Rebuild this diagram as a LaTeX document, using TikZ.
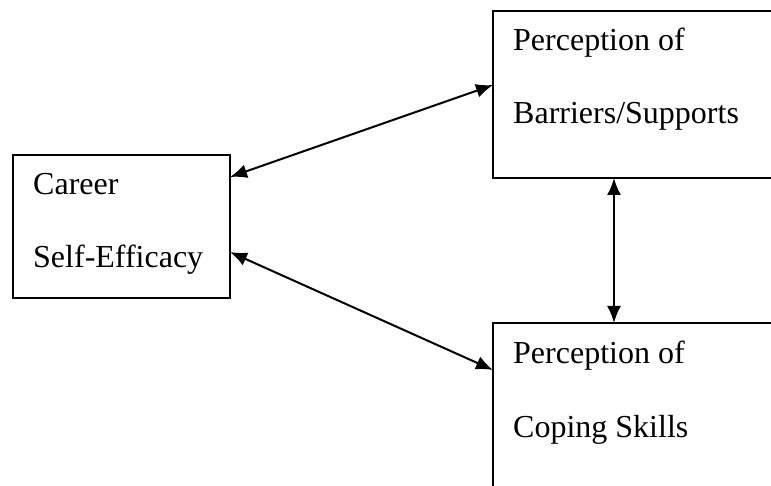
\documentclass[tikz,border=0pt]{standalone}
\usepackage{fontspec}
\setmainfont{Liberation Serif}
\usepackage{tikz}
\usetikzlibrary{arrows.meta}

\begin{document}
\begin{tikzpicture}[x=1pt,y=-1pt,
  box/.style={draw, line width=2.2pt, rectangle, anchor=north west, inner sep=0pt, outer sep=0pt},
  txt/.style={anchor=base west, inner sep=0pt, font=\fontsize{32}{38}\selectfont},
  link/.style={line width=2pt, {Latex[length=17pt,width=14pt]}-{Latex[length=17pt,width=14pt]}}]
\useasboundingbox (0,0) rectangle (771,486);
\clip (0,0) rectangle (771,486);
\node[box, minimum width=217pt, minimum height=143pt] (career) at (13,155) {};
\node[box, minimum width=300pt, minimum height=167pt] (barriers) at (493,11) {};
\node[box, minimum width=300pt, minimum height=200pt] (coping) at (493,323) {};
\node[txt] (career1) at (33,195) {Career};
\node[txt] (career2) at (33,268) {Self-Efficacy};
\node[txt] (barriers1) at (513,51) {Perception of};
\node[txt] (barriers2) at (513,124) {Barriers/Supports};
\node[txt] (coping1) at (513,363) {Perception of};
\node[txt] (coping2) at (513,437) {Coping Skills};
\draw[link] ([yshift=-22pt]career.north east) -- ([yshift=-74pt]barriers.north west);
\draw[link] ([yshift=-97pt]career.north east) -- ([yshift=-47pt]coping.north west);
\draw[link] ([xshift=121pt]barriers.south west) -- ([xshift=121pt]coping.north west);
\end{tikzpicture}
\end{document}
